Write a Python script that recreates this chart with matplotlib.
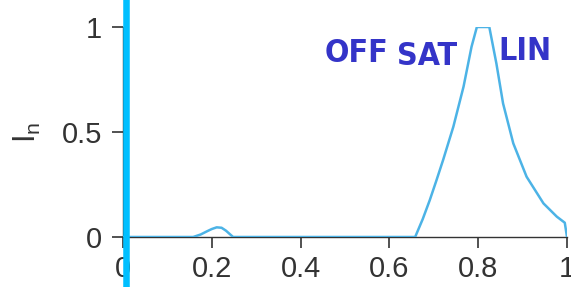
import numpy as np
import matplotlib
matplotlib.use('Agg')
import matplotlib.pyplot as plt

# -- Data
x_vals = [0.0, 0.158, 0.175, 0.19, 0.2, 0.211, 0.222, 0.232, 0.241, 0.248,
          0.658, 0.675, 0.691, 0.706, 0.721, 0.744, 0.767, 0.785, 0.797,
          0.825, 0.841, 0.856, 0.879, 0.909, 0.947, 0.977, 0.995, 1.0]
y_vals = [0.0, 0.0, 0.012, 0.028, 0.038, 0.046, 0.044, 0.03, 0.013, 0.0,
          0.0, 0.085, 0.176, 0.27, 0.367, 0.525, 0.716, 0.906, 1.0,
          1.0, 0.826, 0.636, 0.446, 0.287, 0.16, 0.097, 0.068, 0.0]
x_ticks = [0, 0.2, 0.4, 0.6, 0.8, 1]
x_ticklabels = ['0', '0.2', '0.4', '0.6', '0.8', '1']
y_ticks = [0, 0.5, 1]
y_ticklabels = ['0', '0.5', '1']
marker_x = 0.007
notes = ['OFF', 'SAT', 'LIN']
note_x = [0.525, 0.685, 0.905]
note_y = [0.875, 0.86, 0.885]

plt.rcParams['font.family'] = ['Liberation Sans', 'DejaVu Sans']

# -- Figure
fig = plt.figure(figsize=(5.71, 2.87), dpi=100)
ax = fig.add_axes([123 / 571, 50 / 287, 444 / 571, 210 / 287])

ax.plot(x_vals, y_vals, color='#4cb3e6', lw=1.8, zorder=3)
ax.axvline(marker_x, ymin=-0.3, ymax=1.3, color='#00bfff', lw=4.7,
           clip_on=False, zorder=5)

for s, xn, yn in zip(notes, note_x, note_y):
    ax.text(xn, yn, s, color='#3434c8', fontsize=23, fontweight='bold',
            fontstretch='condensed', ha='center', va='center',
            family=['DejaVu Sans'])

# -- Axes styling
ax.set_xlim(0, 1)
ax.set_ylim(0, 1)
ax.set_xticks(x_ticks)
ax.set_xticklabels(x_ticklabels)
ax.set_yticks(y_ticks)
ax.set_yticklabels(y_ticklabels)
for side in ['top', 'right']:
    ax.spines[side].set_visible(False)
for side in ['left', 'bottom']:
    ax.spines[side].set_color('#333333')
    ax.spines[side].set_linewidth(1.0)
ax.tick_params(direction='out', length=8, width=1.2, colors='#333333',
               labelsize=21, pad=5)
ax.tick_params(axis='y', pad=7)
ax.set_ylabel('I$_\\mathregular{n}$', fontsize=22, color='#333333')
ax.yaxis.set_label_coords(-0.18, 0.5)

plt.savefig('out.png', dpi=100)
plt.close(fig)
